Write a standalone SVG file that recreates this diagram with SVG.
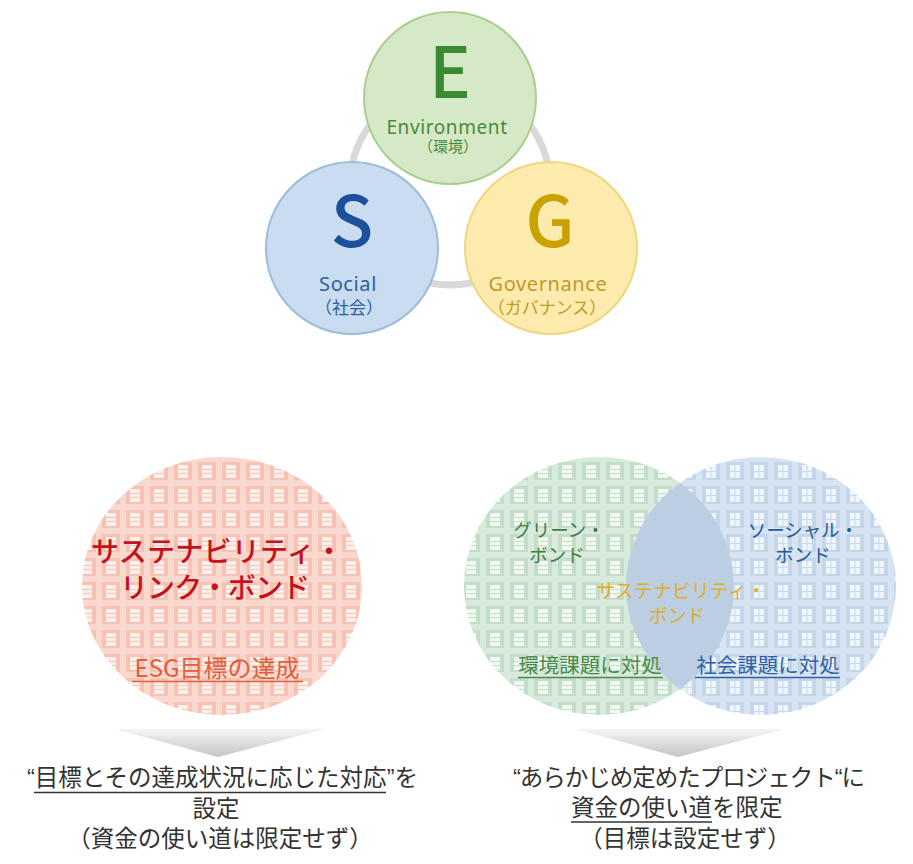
<svg xmlns="http://www.w3.org/2000/svg" width="913" height="864" viewBox="0 0 913 864">
<style>
.jp{font-family:"Noto Sans CJK JP","Noto Sans",sans-serif}
.lat{font-family:"Noto Sans","Open Sans",sans-serif;letter-spacing:0.6px}
.q{font-family:"Liberation Sans",sans-serif}
.big{font-family:"Noto Sans CJK JP","Noto Sans",sans-serif;font-weight:500;font-size:70px;text-anchor:middle}
.mid{text-anchor:middle}
.blk{fill:#333333;font-size:23.5px}
</style>
<defs>
<pattern id="pPink" patternUnits="userSpaceOnUse" width="24" height="24">
<rect width="24" height="24" fill="#f5c2b3"/>
<rect width="24" height="6" fill="#f9d9cf"/>
<rect width="6" height="24" fill="#f9d9cf"/>
<rect x="10" y="9" width="10" height="13" fill="#fdf0ec"/>
<rect x="10" y="13" width="10" height="1" fill="#f5c7ba"/>
<rect x="10" y="17" width="10" height="1" fill="#f5c7ba"/>
</pattern>
<pattern id="pGreen" patternUnits="userSpaceOnUse" width="24" height="24">
<rect width="24" height="24" fill="#c3ddc8"/>
<rect width="24" height="6" fill="#d8eadb"/>
<rect width="6" height="24" fill="#d8eadb"/>
<rect x="10" y="9" width="10" height="13" fill="#f1f8f2"/>
<rect x="10" y="13" width="10" height="1" fill="#c9e0cd"/>
<rect x="10" y="17" width="10" height="1" fill="#c9e0cd"/>
</pattern>
<pattern id="pBlue" patternUnits="userSpaceOnUse" width="24" height="24">
<rect width="24" height="24" fill="#c3d6ea"/>
<rect width="24" height="6" fill="#d8e4f1"/>
<rect width="6" height="24" fill="#d8e4f1"/>
<rect x="10" y="9" width="10" height="13" fill="#f0f5fb"/>
<rect x="14.5" y="9" width="1" height="13" fill="#cadbec"/>
<rect x="10" y="15" width="10" height="1" fill="#cadbec"/>
</pattern>
<clipPath id="clipGreen"><ellipse cx="599" cy="586" rx="135" ry="129"/></clipPath>
<linearGradient id="gArrow" x1="0" y1="0" x2="0" y2="1">
<stop offset="0" stop-color="#f5f5f5"/>
<stop offset="1" stop-color="#c4c4c4"/>
</linearGradient>
</defs>
<rect width="913" height="864" fill="#ffffff"/>

<g id="connectors">
<circle cx="450" cy="185" r="100" fill="none" stroke="#d9d9d9" stroke-width="7"/>
<polygon points="115,729 325,729 218,757" fill="url(#gArrow)"/>
<polygon points="575,729 785,729 678,757" fill="url(#gArrow)"/>
</g>

<g id="node-E">
<circle cx="450" cy="98" r="86" fill="#d6e9c6" stroke="#a9cf90" stroke-width="2"/>
<text class="big" x="450" y="98" fill="#3a8a34">E</text>
<text class="lat mid" x="447" y="134" font-size="19" fill="#4a8a3c">Environment</text>
<text class="jp mid" x="448" y="152" font-size="15" fill="#4a8a3c">（環境）</text>
</g>

<g id="node-S">
<circle cx="352" cy="248" r="86" fill="#cadcef" stroke="#9dbbdc" stroke-width="2"/>
<text class="big" x="352" y="247" fill="#1c4f9c">S</text>
<text class="lat mid" x="348" y="291" font-size="20" fill="#2f5f9f">Social</text>
<text class="jp mid" x="349" y="314" font-size="17" fill="#2f5f9f">（社会）</text>
</g>

<g id="node-G">
<circle cx="551" cy="248" r="86" fill="#fcebac" stroke="#f0d67e" stroke-width="2"/>
<text class="big" x="550" y="247" fill="#c9a100">G</text>
<text class="lat mid" x="548" y="291" font-size="20" fill="#c09a2a">Governance</text>
<text class="jp mid" x="547" y="314" font-size="17" fill="#c09a2a">（ガバナンス）</text>
</g>

<g id="node-sll">
<ellipse cx="222" cy="586" rx="140" ry="129" fill="url(#pPink)"/>
<text class="jp mid" x="217" y="562" font-size="28" font-weight="500" fill="#c4121c" textLength="252">サステナビリティ・</text>
<text class="jp mid" x="215" y="598" font-size="28" font-weight="500" fill="#c4121c" textLength="190">リンク・ボンド</text>
<text class="jp mid" x="217" y="677" font-size="24" fill="#e0603c">ESG目標の達成</text>
<line x1="132" y1="681.5" x2="303" y2="681.5" stroke="#e0603c" stroke-width="1.5"/>
</g>

<g id="node-green-bond">
<ellipse cx="599" cy="586" rx="135" ry="129" fill="url(#pGreen)"/>
</g>
<g id="node-social-bond">
<ellipse cx="761" cy="586" rx="135" ry="129" fill="url(#pBlue)"/>
</g>
<g id="node-sustainability-bond">
<ellipse cx="761" cy="586" rx="135" ry="129" fill="#bccfe2" clip-path="url(#clipGreen)"/>
</g>
<g id="labels-bonds">
<text class="jp mid" x="559" y="537" font-size="18.5" fill="#3f7f45">グリーン・</text>
<text class="jp mid" x="557" y="562" font-size="18.5" fill="#3f7f45">ボンド</text>
<text class="jp mid" x="803" y="537" font-size="18.5" fill="#275a98">ソーシャル・</text>
<text class="jp mid" x="803" y="562" font-size="18.5" fill="#275a98">ボンド</text>
<text class="jp mid" x="681" y="598" font-size="19" fill="#e0ad2c">サステナビリティ・</text>
<text class="jp mid" x="677" y="623" font-size="19" fill="#e0ad2c">ボンド</text>
<text class="jp mid" x="590" y="673" font-size="20.5" fill="#4a8a4a">環境課題に対処</text>
<line x1="518" y1="677.5" x2="663" y2="677.5" stroke="#4a8a4a" stroke-width="1.3"/>
<text class="jp mid" x="768" y="673" font-size="20.5" fill="#2f62a6">社会課題に対処</text>
<line x1="695" y1="677.5" x2="840" y2="677.5" stroke="#2f62a6" stroke-width="1.3"/>
</g>

<g id="caption-left" class="jp blk">
<text x="27" y="786"><tspan class="q">“</tspan>目標とその達成状況に応じた対応<tspan class="q">”</tspan>を</text>
<line x1="34" y1="792.5" x2="386" y2="792.5" stroke="#333333" stroke-width="1.3"/>
<text class="mid" x="216" y="817">設定</text>
<text class="mid" x="220" y="847">（資金の使い道は限定せず）</text>
</g>

<g id="caption-right" class="jp blk">
<text class="mid" x="689" y="786" textLength="352"><tspan class="q">“</tspan>あらかじめ定めたプロジェクト<tspan class="q">“</tspan>に</text>
<text x="571" y="816">資金の使い道を限定</text>
<line x1="571" y1="822" x2="712" y2="822" stroke="#333333" stroke-width="1.3"/>
<text class="mid" x="685" y="847">（目標は設定せず）</text>
</g>
</svg>
